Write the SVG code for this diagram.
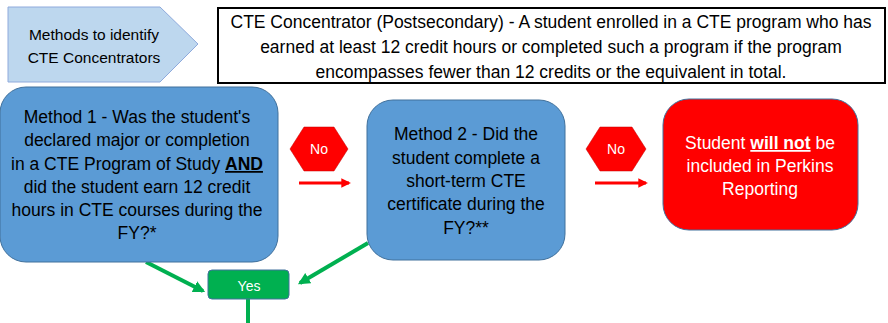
<svg xmlns="http://www.w3.org/2000/svg" width="888" height="323" viewBox="0 0 888 323">
<defs>
<style>
text{font-family:"Liberation Sans","DejaVu Sans",sans-serif;text-anchor:middle}
.dk{fill:#000}
.wt{fill:#fff}
.m{font-size:17.5px}
.d{font-size:17.5px}
.t{font-size:15.5px}
.s{font-size:14px}
.blue{fill:#5B9BD5;stroke:#41719C;stroke-width:1}
.red{stroke:#FF0000;stroke-width:3;fill:none}
.grn{stroke:#00B050;stroke-width:4;fill:none}
</style>
<marker id="ra" viewBox="0 0 10 10" refX="8" refY="5" markerWidth="3.2" markerHeight="3.2" orient="auto" markerUnits="strokeWidth"><path d="M0,0L10,5L0,10z" fill="#FF0000"/></marker>
<marker id="ga" viewBox="0 0 10 10" refX="8" refY="5" markerWidth="3" markerHeight="3" orient="auto" markerUnits="strokeWidth"><path d="M0,0L10,5L0,10z" fill="#00B050"/></marker>
</defs>
<g id="title">
<path d="M8,7H160L198,44L160,82H8Z" fill="#BDD7EE" stroke="#8FAADC" stroke-width="1"/>
<text class="dk t" x="94" y="40">Methods to identify</text>
<text class="dk t" x="94" y="63">CTE Concentrators</text>
</g>
<g id="definition">
<rect x="218" y="8" width="667" height="75" fill="#fff" stroke="#000" stroke-width="2"/>
<text class="dk d" x="551" y="28">CTE Concentrator (Postsecondary) - A student enrolled in a CTE program who has</text>
<text class="dk d" x="551" y="53">earned at least 12 credit hours or completed such a program if the program</text>
<text class="dk d" x="551" y="78">encompasses fewer than 12 credits or the equivalent in total.</text>
</g>
<g id="connectors">
<line class="red" x1="299" y1="183" x2="349" y2="183" marker-end="url(#ra)"/>
<line class="red" x1="595" y1="183" x2="646" y2="183" marker-end="url(#ra)"/>
<line class="grn" x1="146" y1="262" x2="203" y2="291" marker-end="url(#ga)"/>
<line class="grn" x1="368" y1="243" x2="300" y2="283" marker-end="url(#ga)"/>
<line class="grn" x1="248" y1="299" x2="248" y2="323"/>
</g>
<g id="method1">
<rect class="blue" x="0" y="87" width="278" height="175" rx="26"/>
<text class="dk m" x="137" y="123">Method 1 - Was the student's</text>
<text class="dk m" x="137" y="146">declared major or completion</text>
<text class="dk m" x="137" y="170">in a CTE Program of Study <tspan font-weight="bold" text-decoration="underline">AND</tspan></text>
<text class="dk m" x="137" y="193">did the student earn 12 credit</text>
<text class="dk m" x="137" y="216">hours in CTE courses during the</text>
<text class="dk m" x="137" y="239">FY?*</text>
</g>
<g id="no1">
<path d="M290,149L304,127H334L348,149L334,171H304Z" fill="#FF0000" stroke="#C00000" stroke-width="0.5"/>
<text class="wt s" x="319" y="154">No</text>
</g>
<g id="method2">
<rect class="blue" x="367" y="100" width="198" height="160" rx="26"/>
<text class="dk m" x="466" y="140">Method 2 - Did the</text>
<text class="dk m" x="466" y="164">student complete a</text>
<text class="dk m" x="466" y="187">short-term CTE</text>
<text class="dk m" x="466" y="210">certificate during the</text>
<text class="dk m" x="466" y="234">FY?**</text>
</g>
<g id="no2">
<path d="M586,149L600,127H632L646,149L632,171H600Z" fill="#FF0000" stroke="#C00000" stroke-width="0.5"/>
<text class="wt s" x="616" y="154">No</text>
</g>
<g id="excluded">
<rect x="663" y="99" width="195" height="131" rx="26" fill="#FF0000" stroke="#41719C" stroke-width="1"/>
<text class="wt m" x="760" y="149">Student <tspan font-weight="bold" text-decoration="underline">will not</tspan> be</text>
<text class="wt m" x="760" y="172">included in Perkins</text>
<text class="wt m" x="760" y="195">Reporting</text>
</g>
<g id="yes">
<rect x="208" y="270" width="81" height="29" rx="4" fill="#00B050" stroke="#41719C" stroke-width="1"/>
<text class="wt s" x="249" y="291">Yes</text>
</g>
</svg>
